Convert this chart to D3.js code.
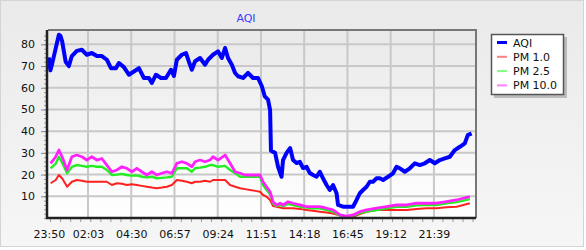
<!DOCTYPE html>
<html>
<head>
<meta charset="utf-8">
<script src="https://cdn.jsdelivr.net/npm/d3@7"></script>
<style>
  body { margin: 0; background: #fff; }
  text { font-family: "DejaVu Sans", Verdana, sans-serif; }
</style>
</head>
<body>
<div class="chart"></div>
<script>
// minutes after 23:50, value
var aqi = [
  [0,74],[5,68],[11,71],[23,78],[34,84.4],[39,84],[45,81.5],[57,72],[68,70],[78,74.6],
  [95,77],[112,77.5],[129,75.2],[146,76],[163,74.6],[180,74.6],[197,72.9],[211,69],[228,69],[238,71.4],
  [255,69.5],[272,66],[289,67.5],[306,69],[323,64.5],[340,64.5],[350,62.2],[364,66],[381,64.5],[398,64.5],
  [415,68.3],[425,65.4],[435,72.9],[452,75.2],[466,76],[476,72],[486,68.3],[497,72.2],[514,73.7],[531,70.6],
  [541,72.9],[558,75.2],[575,76.8],[588,73.7],[599,78.3],[609,73.7],[622,70.6],[633,66.8],[643,65.3],[660,64.5],
  [677,66.8],[694,64.5],[711,64.5],[724,60.7],[734,56],[745,54.5],[752,49.7],[755,31],[769,30],[779,23.6],
  [791,19],[796,26.7],[808,30],[820,32.2],[830,26.7],[842,25.3],[853,25.9],[864,23],[876,23.6],[887,20.7],
  [898,19.8],[910,19],[921,21.3],[932,18.3],[944,15.2],[955,12.9],[966,15.2],[978,11.4],[983,6],[1000,5.2],
  [1017,5.2],[1034,5.2],[1046,8.3],[1057,11.4],[1068,12.9],[1080,14.4],[1091,16.7],[1102,16.7],[1114,18.3],[1125,18.3],
  [1136,17.5],[1153,19],[1170,20.6],[1182,23.6],[1193,22.9],[1210,21.3],[1227,22.9],[1244,25.2],[1261,24.4],[1278,25.2],
  [1295,26.7],[1312,25.2],[1329,26.7],[1346,27.5],[1363,28.2],[1380,31.3],[1397,32.8],[1414,34.4],[1424,38.2],[1437,39]
];

var pmMinutes = [6,23,34,45,62,78,95,112,129,146,
  163,180,197,214,231,248,265,282,299,316,
  333,350,367,384,401,418,435,452,469,486,
  497,514,531,548,558,575,599,616,633,650,
  667,684,701,718,728,740,752,762,774,786,
  796,813,830,853,876,898,921,944,966,990,
  1012,1034,1057,1080,1114,1148,1182,1216,1250,1284,
  1318,1352,1386,1409,1431];

var pm10 = [25.2,28.2,31.3,28.2,22.1,28.2,29,28.2,26.7,28.2,
  26.7,27.4,24.4,21.3,22.1,23.6,22.9,21.3,22.9,21.3,
  19.8,21.3,19.8,20.6,21.3,20.6,25.2,25.9,25.2,23.6,
  25.9,26.7,25.9,26.7,28.2,26.7,29,25.2,21.3,20.6,
  19.8,19.8,19.8,19.8,16.7,14.4,12.1,7.5,6,6.8,
  6,7.5,6.8,6,5.2,5.2,5.2,4.5,3.7,1.4,
  0.9,1.4,2.9,3.7,4.5,5.2,6,6,6.8,6.8,
  6.8,7.5,8.3,9.1,9.8];

var pm25 = [22.9,25,28.2,25.5,20.6,23.5,24.4,24,23.6,24,
  23.6,23.6,22.1,19.8,20,20.3,19.8,19.5,19.6,19,
  18.7,19,18.3,18.5,18.7,19,22.9,22.9,22.9,21.3,
  22.9,23.2,23.6,24.4,24.4,23.6,24,22.1,20.6,19,
  19,19,19,19,15.2,12.9,11,6.8,5.5,6,
  5.5,6.5,6,5.2,4.8,4.5,4.5,3.7,3,1.1,
  0.7,1.1,2.3,3,3.7,4.5,5.2,5.2,5.8,6,
  6,6.8,7.3,8,8.7];

var pm1 = [16,17.5,19.8,18.3,14.4,16.7,17.5,17.2,16.7,16.7,
  16.7,16.7,16.7,15.2,16,15.8,15.2,15.5,15.2,14.8,
  14.4,14,13.7,14,14.4,15.2,17.5,17.2,16.7,16,
  16.7,16.7,17.2,16.7,17.5,17.5,17.5,15.2,14.4,13.7,
  13.3,12.9,12.5,12.1,10.6,9.8,8.3,5.5,5.2,4.8,
  4.5,4.5,4.5,4.2,3.7,3.3,2.9,2.5,2.1,1.1,
  0.8,0.6,1.8,2.9,3.7,3.7,3.7,3.7,4.2,4.5,
  4.5,4.9,5.2,6,6.8];

// tick labels (minutes after 23:50)
var tickMinutes = [0,133,280,427,574,721,868,1015,1162,1309];
var yTicks = [10,20,30,40,50,60,70,80];

var seriesNames = ["AQI", "PM 1.0", "PM 2.5", "PM 10.0"];
var lineColors = ["#0000ff", "#ff2020", "#22ee22", "#ff22ff"];
var swatchColors = ["#0000ff", "#ff8080", "#80ff80", "#ff80ff"];

var NS = {};
NS.width = 586;
NS.height = 250;
NS.left = 48; NS.right = 476; NS.top = 30; NS.bottom = 218;
NS.start = Date.UTC(2021, 0, 1, 23, 50);

function t(m) { return new Date(NS.start + m * 60000); }

var svg = d3.select(".chart").append("svg")
  .attr("width", NS.width)
  .attr("height", NS.height);

var defs = svg.append("defs");
var g1 = defs.append("linearGradient").attr("id", "outerBg")
  .attr("x1", 0).attr("y1", 0).attr("x2", 0).attr("y2", 1);
g1.append("stop").attr("offset", "0%").attr("stop-color", "#eaeaea");
g1.append("stop").attr("offset", "100%").attr("stop-color", "#f6f6f6");
var g2 = defs.append("linearGradient").attr("id", "plotBg")
  .attr("x1", 0).attr("y1", 0).attr("x2", 0).attr("y2", 1);
g2.append("stop").attr("offset", "0%").attr("stop-color", "#e9e9e9");
g2.append("stop").attr("offset", "100%").attr("stop-color", "#ffffff");

// outer panel
svg.append("rect")
  .attr("x", 0.5).attr("y", 0.5)
  .attr("width", 583).attr("height", 246)
  .attr("fill", "url(#outerBg)")
  .attr("stroke", "#d4d4d4");

// plot area
svg.append("rect")
  .attr("x", NS.left).attr("y", NS.top)
  .attr("width", NS.right - NS.left).attr("height", NS.bottom - NS.top)
  .attr("fill", "url(#plotBg)");

var x = d3.scaleUtc()
  .domain([t(-3), t(1452)])
  .range([NS.left, NS.right]);
var y = d3.scaleLinear()
  .domain([0, 86.6])
  .range([NS.bottom, NS.top]);

// grid
svg.append("g").selectAll("line")
  .data(yTicks).enter().append("line")
  .attr("x1", NS.left).attr("x2", NS.right)
  .attr("y1", function(d) { return y(d); })
  .attr("y2", function(d) { return y(d); })
  .attr("stroke", "#c8c8c8").attr("stroke-width", 2);
svg.append("g").selectAll("line")
  .data(tickMinutes.slice(1)).enter().append("line")
  .attr("x1", function(d) { return x(t(d)); })
  .attr("x2", function(d) { return x(t(d)); })
  .attr("y1", NS.top).attr("y2", NS.bottom)
  .attr("stroke", "#c8c8c8").attr("stroke-width", 2);

// frame top/right
svg.append("path")
  .attr("d", "M" + NS.left + "," + NS.top + "H" + NS.right + "V" + NS.bottom)
  .attr("fill", "none").attr("stroke", "#777").attr("stroke-width", 2);

// series
var line = d3.line()
  .x(function(d) { return x(t(d[0])); })
  .y(function(d) { return y(d[1]); });

function pmSeries(vals) {
  return pmMinutes.map(function(m, i) { return [m, vals[i]]; });
}

var plotData = [
  {data: aqi, color: lineColors[0], w: 4},
  {data: pmSeries(pm1), color: lineColors[1], w: 2},
  {data: pmSeries(pm25), color: lineColors[2], w: 2.4},
  {data: pmSeries(pm10), color: lineColors[3], w: 2.8}
];

svg.append("g").selectAll("path")
  .data(plotData).enter().append("path")
  .attr("d", function(d) { return line(d.data); })
  .attr("fill", "none")
  .attr("stroke", function(d) { return d.color; })
  .attr("stroke-width", function(d) { return d.w; })
  .attr("stroke-linejoin", "round");

// y axis: minor then major
svg.append("g")
  .attr("transform", "translate(" + (NS.left - 1) + ",0)")
  .call(d3.axisLeft(y).tickValues(d3.range(0, 86, 2)).tickSize(3).tickFormat(""))
  .call(function(g) { g.select(".domain").remove(); })
  .selectAll("line").attr("stroke", "#999");
var yAxis = svg.append("g")
  .attr("transform", "translate(" + (NS.left - 1) + ",0)")
  .call(d3.axisLeft(y).tickValues(yTicks).tickSize(6).tickPadding(6));
yAxis.select(".domain").remove();
yAxis.selectAll("line").attr("stroke", "#888");
yAxis.selectAll("text").attr("fill", "#111").style("font-size", "11px")
  .style("font-family", "'DejaVu Sans', Verdana, sans-serif");

// x axis: minor ticks then labels
svg.append("g")
  .attr("transform", "translate(0," + (NS.bottom + 1) + ")")
  .call(d3.axisBottom(x).tickValues(d3.range(4, 1450, 34.2).map(t)).tickSize(3).tickFormat(""))
  .call(function(g) { g.select(".domain").remove(); })
  .selectAll("line").attr("stroke", "#999");
var xAxis = svg.append("g")
  .attr("transform", "translate(0," + (NS.bottom + 1) + ")")
  .call(d3.axisBottom(x).tickValues(tickMinutes.map(t)).tickSize(0).tickPadding(11)
    .tickFormat(d3.utcFormat("%H:%M")));
xAxis.select(".domain").remove();
xAxis.selectAll("text").attr("fill", "#111").style("font-size", "11px")
  .style("font-family", "'DejaVu Sans', Verdana, sans-serif");

// axis lines
svg.append("path")
  .attr("d", "M" + (NS.left - 1) + "," + NS.top + "V" + NS.bottom + "H" + NS.right)
  .attr("fill", "none").attr("stroke", "#222").attr("stroke-width", 2.5);

// title
svg.append("text")
  .attr("x", 246).attr("y", 22)
  .attr("text-anchor", "middle")
  .attr("fill", "#3a3aff")
  .style("font-size", "11px")
  .text("AQI");

// legend
var lg = svg.append("g").attr("transform", "translate(491,34)");
lg.append("rect").attr("x", 3).attr("y", 3).attr("width", 73).attr("height", 61)
  .attr("fill", "#9a9a9a").attr("opacity", 0.6);
lg.append("rect").attr("x", 0.5).attr("y", 0.5).attr("width", 72).attr("height", 60)
  .attr("fill", "#fff").attr("stroke", "#555").attr("stroke-width", 1.5);
var item = lg.selectAll(".item").data(seriesNames).enter().append("g")
  .attr("transform", function(d, i) { return "translate(0," + (8.5 + i * 14.3) + ")"; });
item.append("line")
  .attr("x1", 6).attr("x2", 16).attr("y1", 0).attr("y2", 0)
  .attr("stroke", function(d, i) { return swatchColors[i]; })
  .attr("stroke-width", function(d, i) { return i === 0 ? 3 : 2; });
item.append("text")
  .attr("x", 22).attr("y", 4)
  .attr("fill", "#111")
  .style("font-size", "11px")
  .text(function(d) { return d; });
</script>
</body>
</html>
